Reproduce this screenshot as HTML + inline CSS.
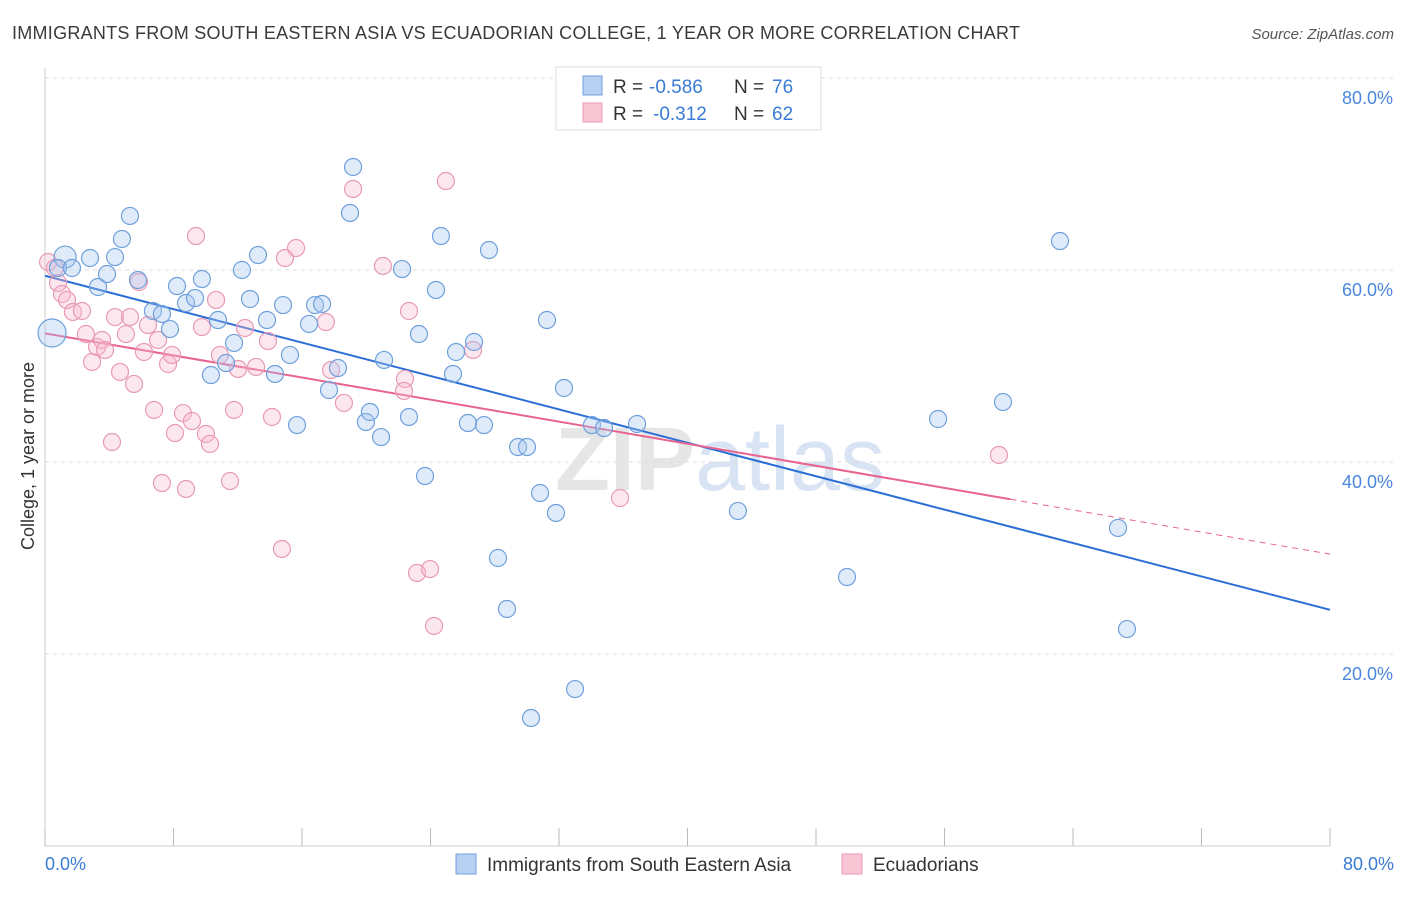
<!DOCTYPE html>
<html><head><meta charset="utf-8"><style>
body{margin:0;background:#fff;font-family:"Liberation Sans",sans-serif}
svg text{font-family:"Liberation Sans",sans-serif}
</style></head><body>
<svg width="1406" height="892" viewBox="0 0 1406 892">
<text x="12" y="39" font-size="18" fill="#3a3a3a" textLength="1008">IMMIGRANTS FROM SOUTH EASTERN ASIA VS ECUADORIAN COLLEGE, 1 YEAR OR MORE CORRELATION CHART</text>
<text x="1394" y="39" font-size="15" fill="#555" text-anchor="end" font-style="italic">Source: ZipAtlas.com</text>
<text x="720" y="490" font-size="90" fill="#e6e6e6" text-anchor="middle" font-weight="bold">ZIP<tspan fill="#d8e4f4" font-weight="normal">atlas</tspan></text>
<g id="grid"></g><g id="axes"></g><g id="lines"></g><g id="pts"></g>
<text transform="translate(34,456) rotate(-90)" font-size="18" fill="#333" text-anchor="middle">College, 1 year or more</text>
<text x="45" y="870" font-size="18" fill="#3a7bd5">0.0%</text>
<text x="1394" y="870" font-size="18" fill="#3a7bd5" text-anchor="end">80.0%</text>
<g>
<rect x="556" y="67" width="265" height="63" fill="#fff" stroke="#ddd"/>
<rect x="583" y="76" width="19" height="19" fill="#b7d1f3" stroke="#6fa0dc"/>
<rect x="583" y="103" width="19" height="19" fill="#f9c6d6" stroke="#e89ab5"/>
<text x="613" y="93" font-size="19" fill="#333">R =</text>
<text x="649" y="93" font-size="19" fill="#3a7bd5">-0.586</text>
<text x="734" y="93" font-size="19" fill="#333">N =</text>
<text x="772" y="93" font-size="19" fill="#3a7bd5">76</text>
<text x="613" y="120" font-size="19" fill="#333">R =</text>
<text x="653" y="120" font-size="19" fill="#3a7bd5">-0.312</text>
<text x="734" y="120" font-size="19" fill="#333">N =</text>
<text x="772" y="120" font-size="19" fill="#3a7bd5">62</text>
</g>
<g>
<rect x="456" y="854" width="20" height="20" fill="#b7d1f3" stroke="#6fa0dc"/>
<text x="487" y="871" font-size="19" fill="#333">Immigrants from South Eastern Asia</text>
<rect x="842" y="854" width="20" height="20" fill="#f9c6d6" stroke="#e89ab5"/>
<text x="873" y="871" font-size="19" fill="#333">Ecuadorians</text>
</g>
</svg>
<script>
const yTicks=[20,40,60,80];
const xTicks=[0,8,16,24,32,40,48,56,64,72,80];
const bluePx=[[52,333],[65,257],[58,268],[72,268],[90,258],[98,287],[107,274],[115,257],[122,239],[130,216],[138,280],[153,311],[162,314],[170,329],[177,286],[186,303],[195,298],[202,279],[211,375],[218,320],[226,363],[234,343],[242,270],[250,299],[258,255],[267,320],[275,374],[283,305],[290,355],[297,425],[309,324],[315,305],[322,304],[338,368],[329,390],[350,213],[353,167],[366,422],[370,412],[381,437],[384,360],[402,269],[409,417],[419,334],[425,476],[436,290],[441,236],[453,374],[456,352],[468,423],[474,342],[484,425],[489,250],[498,558],[507,609],[518,447],[527,447],[531,718],[540,493],[547,320],[556,513],[564,388],[575,689],[592,425],[604,428],[637,424],[738,511],[847,577],[938,419],[1003,402],[1060,241],[1118,528],[1127,629]];
const pinkPx=[[48,262],[55,268],[58,283],[62,294],[67,300],[73,312],[82,311],[86,334],[92,362],[97,347],[102,340],[105,350],[112,442],[115,317],[120,372],[126,334],[130,317],[134,384],[139,282],[144,352],[148,325],[154,410],[158,340],[162,483],[168,364],[172,355],[175,433],[183,413],[186,489],[192,421],[196,236],[202,327],[206,434],[210,444],[216,300],[220,355],[230,481],[234,410],[238,369],[245,328],[256,367],[268,341],[272,417],[282,549],[285,258],[296,248],[326,322],[331,370],[344,403],[353,189],[383,266],[405,379],[404,391],[409,311],[417,573],[430,569],[434,626],[446,181],[473,350],[620,498],[999,455]];
const blueX=bluePx.map(p=>+((p[0]-45)*80/1285).toFixed(2));
const blueY=bluePx.map(p=>+((846-p[1])/9.6).toFixed(2));
const pinkX=pinkPx.map(p=>+((p[0]-45)*80/1285).toFixed(2));
const pinkY=pinkPx.map(p=>+((846-p[1])/9.6).toFixed(2));
const blueTrend=[59.4,24.6];
const pinkTrend=[53.4,30.4];
const pinkSolidEnd=60.1;
const sx=v=>45+v*1285/80, sy=v=>846-v*9.6;
const NS='http://www.w3.org/2000/svg';
function mk(tag,attrs,parent){const e=document.createElementNS(NS,tag);for(const k in attrs)e.setAttribute(k,attrs[k]);document.getElementById(parent).appendChild(e);return e;}
yTicks.forEach(t=>{
 const l=mk('line',{x1:45,x2:1394,y1:sy(t),y2:sy(t),stroke:'#ddd','stroke-dasharray':'4,4'},'grid');
 
 
 const tx=mk('text',{x:1393,y:sy(t)+26,'font-size':18,fill:'#4a86dc','text-anchor':'end'},'grid');
 tx.textContent=t.toFixed(1)+'%';
 
 
});
const ax=mk('line',{x1:45,x2:1330,y1:846,y2:846,stroke:'#ccc'},'axes');


const ay=mk('line',{x1:45,x2:45,y1:68,y2:846,stroke:'#ccc'},'axes');


xTicks.forEach(t=>{
 const l=mk('line',{x1:sx(t),x2:sx(t),y1:828,y2:846,stroke:'#bbb'},'axes');
 
 
});
function pts(X,Y,fill,stroke,name){X.forEach((x,i)=>{
 const r=(name==='blue-point'&&i<2)?(i===0?14:11):8.5;
 const c=mk('circle',{cx:sx(x),cy:sy(Y[i]),r:r,fill:fill,stroke:stroke,'stroke-width':1.2},'pts');
 
 
});}
pts(pinkX,pinkY,'rgba(248,185,205,0.35)','#e89ab5','pink-point');
pts(blueX,blueY,'rgba(165,198,240,0.35)','#6fa0dc','blue-point');
const bl=mk('line',{x1:sx(0),y1:sy(blueTrend[0]),x2:sx(80),y2:sy(blueTrend[1]),stroke:'#2b6fd6','stroke-width':2},'lines');


const py=x=>pinkTrend[0]+(pinkTrend[1]-pinkTrend[0])*x/80;
const pl=mk('line',{x1:sx(0),y1:sy(py(0)),x2:sx(pinkSolidEnd),y2:sy(py(pinkSolidEnd)),stroke:'#e8648f','stroke-width':2},'lines');


const pd=mk('line',{x1:sx(pinkSolidEnd),y1:sy(py(pinkSolidEnd)),x2:sx(80),y2:sy(py(80)),stroke:'#e8648f','stroke-width':1,'stroke-dasharray':'6,5'},'lines');


</script>
</body></html>
